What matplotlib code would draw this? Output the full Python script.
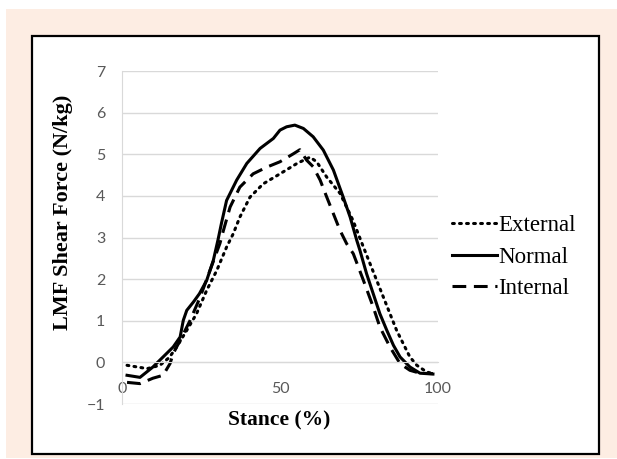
import matplotlib
matplotlib.use("Agg")
import matplotlib.pyplot as plt
from matplotlib.patches import Rectangle

# stance (%) and LMF shear force (N/kg)
ext_x = [1.6, 8, 12, 15, 17.3, 20.5, 23.6, 26.8, 30, 33.1, 35.2, 37.3, 40.5, 44.7, 50,
         55.4, 59.5, 61.6, 64.8, 69, 73.1, 76.4, 78.5, 80.6, 82.7, 84.8, 86.9, 89,
         91.1, 93.3, 96.4, 98.4]
ext_y = [-0.07, -0.15, -0.07, 0.12, 0.37, 0.77, 1.17, 1.73, 2.21, 2.77, 3.09, 3.49,
         3.97, 4.29, 4.53, 4.78, 4.93, 4.82, 4.45, 4.06, 3.41, 2.77, 2.37, 1.97, 1.57,
         1.17, 0.77, 0.45, 0.13, -0.07, -0.23, -0.27]

norm_x = [1.6, 5.7, 9.8, 13, 16.2, 18.4, 19.4, 20.5, 22.6, 24.5, 26.8, 28.9, 30.4, 31.5,
          33.1, 36.3, 39.5, 43.7, 45.8, 47.9, 50, 52.1, 54.7, 57.4, 60.5, 63.7, 66.9,
          70, 72.2, 74.3, 75.3, 77.4, 79.5, 81.6, 83.8, 85.9, 88, 91.1, 94.3, 98.4]
norm_y = [-0.31, -0.36, -0.11, 0.13, 0.37, 0.61, 1.01, 1.25, 1.45, 1.65, 1.97, 2.45,
          2.95, 3.35, 3.89, 4.38, 4.78, 5.14, 5.26, 5.38, 5.58, 5.66, 5.7, 5.62, 5.42,
          5.1, 4.62, 3.97, 3.49, 2.93, 2.69, 2.13, 1.65, 1.17, 0.77, 0.41, 0.13, -0.11,
          -0.26, -0.28]

int_x = [1.6, 5.7, 9.8, 13, 15.2, 16.2, 18.4, 21.5, 24.7, 27.8, 31, 32.1, 34.2, 37.3,
         41.5, 45.8, 50, 54.2, 56.3, 58.4, 60.5, 62.7, 64.8, 66.9, 69, 71.1, 73.2, 76.4,
         79.5, 81.6, 84.8, 88, 91.1, 94.3, 98.4]
int_y = [-0.48, -0.51, -0.38, -0.31, -0.03, 0.21, 0.53, 1.0, 1.56, 2.2, 2.86, 3.17,
         3.73, 4.21, 4.53, 4.69, 4.82, 5.01, 5.11, 4.86, 4.7, 4.38, 3.97, 3.57, 3.17,
         2.85, 2.61, 1.97, 1.33, 0.85, 0.37, -0.03, -0.19, -0.26, -0.27]

xticks = [0, 50, 100]
yticks = [-1, 0, 1, 2, 3, 4, 5, 6, 7]

fig = plt.figure(figsize=(6.17, 4.59), dpi=100)
fig.patch.set_facecolor("white")

# peach page background and white framed panel
fig.add_artist(Rectangle((0.0097, 0.0022), 0.9903, 0.978, transform=fig.transFigure,
                         facecolor="#fdede3", edgecolor="none", zorder=0))
fig.add_artist(Rectangle((0.0519, 0.0109), 0.9189, 0.9107, transform=fig.transFigure,
                         facecolor="white", edgecolor="black", linewidth=1.6, zorder=0.5))

ax = fig.add_axes([0.1977, 0.1198, 0.5122, 0.7255])
ax.set_facecolor("none")
ax.set_zorder(1)

ax.plot(ext_x, ext_y, color="black", lw=2.2, linestyle=(0, (0.6, 1.7)),
        dash_capstyle="round", label="External")
ax.plot(norm_x, norm_y, color="black", lw=2.2, label="Normal")
ax.plot(int_x, int_y, color="black", lw=2.2, linestyle=(0, (4.5, 2.5)), label="Internal")

ax.set_xlim(0, 100)
ax.set_ylim(-1, 7)
ax.set_xticks(xticks)
ax.set_yticks(yticks)
ax.grid(axis="y", color="#d9d9d9", lw=1)
ax.set_axisbelow(True)

for s in ["top", "right"]:
    ax.spines[s].set_visible(False)
ax.spines["bottom"].set_position(("data", 0))
ax.spines["bottom"].set_color("#d9d9d9")
ax.spines["left"].set_color("#d9d9d9")
ax.tick_params(length=0, labelsize=11.5, labelcolor="#595959")
ax.tick_params(axis="x", pad=14)
ax.tick_params(axis="y", pad=12)
for lab in ax.get_xticklabels() + ax.get_yticklabels():
    lab.set_family(["Lato", "DejaVu Sans"])

fig.text(0.102, 0.538, "LMF Shear Force (N/kg)", rotation=90, ha="center", va="center",
         family="Liberation Serif", fontweight="bold", fontsize=16)
fig.text(0.453, 0.085, "Stance (%)", ha="center", va="center",
         family="Liberation Serif", fontweight="bold", fontsize=15.5)

ax.legend(loc="center left", bbox_to_anchor=(0.7326, 0.44), bbox_transform=fig.transFigure,
          frameon=False, prop={"family": "Liberation Serif", "size": 16.5},
          handlelength=1.95, handletextpad=0.05, labelspacing=0.45,
          borderpad=0, borderaxespad=0)

fig.savefig("out.png", dpi=100)
